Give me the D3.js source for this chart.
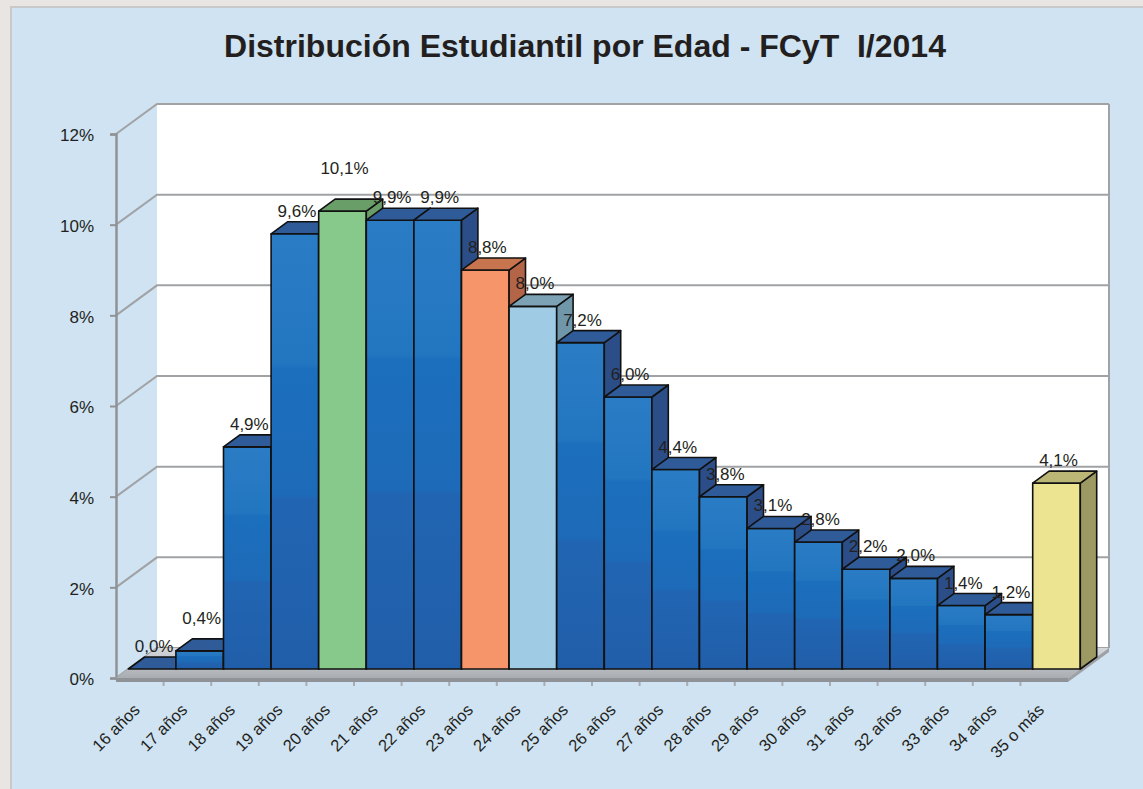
<!DOCTYPE html>
<html>
<head>
<meta charset="utf-8">
<script src="https://cdn.jsdelivr.net/npm/d3@7/dist/d3.min.js"></script>
<style>
  html, body { margin: 0; padding: 0; background: #e8e5e2; }
  svg { display: block; font-family: "Liberation Sans", Arial, Helvetica, sans-serif; }
</style>
</head>
<body>
<div id="chart"></div>
<script>
// categories and values (percent)
const categories = ["16 años","17 años","18 años","19 años","20 años","21 años","22 años","23 años","24 años","25 años",
  "26 años","27 años","28 años","29 años","30 años","31 años","32 años","33 años","34 años","35 o más"];
const values = [0.0, 0.4, 4.9, 9.6, 10.1, 9.9, 9.9, 8.8, 8.0, 7.2, 6.0, 4.4, 3.8, 3.1, 2.8, 2.2, 2.0, 1.4, 1.2, 4.1];
const yTicks = [0, 2, 4, 6, 8, 10, 12];

const W = 1143, H = 789;
const svg = d3.select("#chart").append("svg").attr("width", W).attr("height", H);

// outer frame
svg.append("rect").attr("x", 11).attr("y", 7).attr("width", W).attr("height", H)
  .attr("fill", "#cfe3f2").attr("stroke", "#c9c9c9").attr("stroke-width", 2);

svg.append("text")
  .attr("x", 585).attr("y", 57)
  .attr("text-anchor", "middle")
  .attr("font-size", 32).attr("font-weight", "bold").attr("fill", "#231f20")
  .style("white-space", "pre")
  .text("Distribución Estudiantil por Edad - FCyT  I/2014");

// scales on the front plane; depth goes up-right
const x = d3.scaleBand().domain(categories).range([116, 1068]).padding(0);
const y = d3.scaleLinear().domain([0, 12]).range([678, 134]);
const DX = 41, DY = -30;
const p = (px, py, t) => [px + DX * t, py + DY * t];
const poly = pts => "M" + pts.map(q => q.join(",")).join("L") + "Z";

// back wall
svg.append("rect").attr("x", 116 + DX).attr("y", y(12) + DY)
  .attr("width", 1068 - 116).attr("height", y(0) - y(12)).attr("fill", "#ffffff");

// grid lines (side wall + back wall)
const grid = svg.append("g").attr("stroke", "#a0a2a5").attr("stroke-width", 2).attr("fill", "none");
yTicks.forEach(v => {
  const a = [116, y(v)], b = p(116, y(v), 1);
  grid.append("path").attr("d", `M${a}L${b}L${1068 + DX},${b[1]}`);
});
// back wall right edge
grid.append("line").attr("x1", 1068 + DX).attr("x2", 1068 + DX)
  .attr("y1", y(12) + DY).attr("y2", y(0) + DY);

// y axis (front)
const yAxisG = svg.append("g").attr("transform", "translate(116,0)")
  .call(d3.axisLeft(y).tickValues(yTicks).tickSize(6).tickPadding(16).tickFormat(d => d + "%"));
yAxisG.select(".domain").attr("stroke", "#909396").attr("stroke-width", 2.5);
yAxisG.selectAll(".tick line").attr("stroke", "#909396").attr("stroke-width", 2);
yAxisG.selectAll("text").attr("font-size", 17).attr("fill", "#231f20").attr("dy", "0.4em")
  .attr("font-family", "Liberation Sans, Arial, sans-serif");

// floor
const defs = svg.append("defs");
const fg = defs.append("linearGradient").attr("id", "floor").attr("x1", 0).attr("y1", 0).attr("x2", 0).attr("y2", 1);
fg.append("stop").attr("offset", 0).attr("stop-color", "#d6d9dc");
fg.append("stop").attr("offset", 1).attr("stop-color", "#a9adb1");
const x0 = 116, x1 = 1068, y0 = y(0);
svg.append("path").attr("fill", "url(#floor)")
  .attr("d", poly([[x0, y0], [x1, y0], p(x1, y0, 1), p(x0, y0, 1)]));
svg.append("path").attr("fill", "#8f9397")
  .attr("d", poly([[x0, y0], [x1, y0], [x1, y0 + 4], [x0, y0 + 4]]));
svg.append("path").attr("fill", "#9ea2a6")
  .attr("d", poly([[x1, y0], p(x1, y0, 1), [x1 + DX, y0 + DY + 4], [x1, y0 + 4]]));
// x ticks
svg.append("g").attr("stroke", "#a9adb1").attr("stroke-width", 2)
  .selectAll("line").data(categories.slice(1)).join("line")
  .attr("x1", d => x(d)).attr("x2", d => x(d)).attr("y1", y0 + 4).attr("y2", y0 + 8);

// bar colours
const blue = { top: "#2f5b98", side: "#2c4e88" };
const special = {
  "20 años": { front: "#86c98b", top: "#6a9e69", side: "#699d68" },
  "23 años": { front: "#f6956a", top: "#c8744e", side: "#b56547" },
  "24 años": { front: "#9fcbe5", top: "#7ea2b5", side: "#6f96a9" },
  "35 o más": { front: "#ece491", top: "#bcb676", side: "#9d9963" }
};
const bg = defs.append("linearGradient").attr("id", "blueFront").attr("x1", 0).attr("y1", 0).attr("x2", 0).attr("y2", 1);
[[0, "#2a7cc4"], [0.3, "#2276c0"], [0.31, "#1b6fbd"], [0.6, "#1d6ab8"], [0.61, "#2165b2"], [1, "#215ea9"]]
  .forEach(s => bg.append("stop").attr("offset", s[0]).attr("stop-color", s[1]));

const T0 = 0.3, T1 = 0.7;
const bars = svg.append("g").attr("stroke", "#111111").attr("stroke-width", 1.6).attr("stroke-linejoin", "round");
categories.forEach((c, i) => {
  const col = special[c] || { front: "url(#blueFront)", top: blue.top, side: blue.side };
  const l = x(c), r = x(c) + x.bandwidth(), top = y(values[i]), bot = y(0);
  const fl = p(l, bot, T0), fr = p(r, bot, T0), tl = p(l, top, T0), tr = p(r, top, T0);
  const btl = p(l, top, T1), btr = p(r, top, T1), bbr = p(r, bot, T1);
  const g = bars.append("g");
  if (values[i] > 0) {
    g.append("path").attr("fill", col.front).attr("d", poly([tl, tr, fr, fl]));
    g.append("path").attr("fill", col.side).attr("d", poly([tr, btr, bbr, fr]));
  }
  g.append("path").attr("fill", col.top).attr("d", poly([tl, tr, btr, btl]));
});

// data labels
const lift = { "20 años": 20, "17 años": 10 };
svg.append("g").selectAll("text").data(categories).join("text")
  .attr("x", d => p(x(d) + x.bandwidth() / 2, 0, T0)[0] + 2)
  .attr("y", (d, i) => p(0, y(values[i]), T0)[1] - 17 - (lift[d] || 0))
  .attr("text-anchor", "middle").attr("font-size", 17).attr("fill", "#231f20")
  .text((d, i) => values[i].toFixed(1).replace(".", ",") + "%");

// category labels
svg.append("g").selectAll("text").data(categories).join("text")
  .attr("transform", d => `translate(${x(d) + x.bandwidth() / 2 + 1},${y0 + 33}) rotate(-45)`)
  .attr("text-anchor", "end").attr("font-size", 16.5).attr("fill", "#231f20")
  .text(d => d);
</script>
</body>
</html>
